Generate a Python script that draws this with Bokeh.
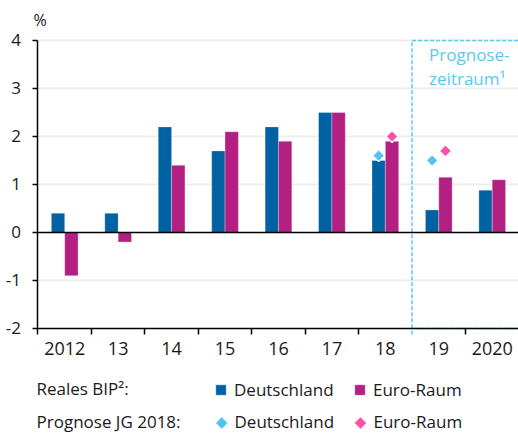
import numpy as np
from bokeh.plotting import figure
from bokeh.models import FixedTicker, Range1d, Label, Legend, LegendItem
from bokeh.embed import file_html
from bokeh.resources import INLINE

# ---- data ----
years = ["2012", "13", "14", "15", "16", "17", "18", "19", "2020"]
bip_de = [0.4, 0.4, 2.2, 1.7, 2.2, 2.5, 1.5, 0.47, 0.88]
bip_eu = [-0.9, -0.2, 1.4, 2.1, 1.9, 2.5, 1.9, 1.15, 1.1]
prog_years = ["18", "19"]
prog_de = [1.6, 1.5]
prog_eu = [2.0, 1.7]
y_ticks = [-2, -1, 0, 1, 2, 3, 4]
y_tick_labels = ["-2", "-1", "0", "1", "2", "3", "4"]
forecast_start = "19"

C_DE = "#0061A3"
C_EU = "#B41F82"
C_PDE = "#55C3F0"
C_PEU = "#FF4FA6"
C_BOX = "#5CC8F2"
TXT = "#1a1a1a"
FONT = "Open Sans"

n = len(years)
W, H = 518, 433
# frame spans the whole canvas; axes are pinned inside it
p = figure(width=W, height=H, x_range=Range1d(-1.2017, 8.4915), y_range=Range1d(-4.188, 4.833),
           output_backend="svg", toolbar_location=None,
           min_border_left=0, min_border_right=0, min_border_top=0, min_border_bottom=0)
p.outline_line_color = None
p.xgrid.visible = False
p.ygrid.visible = False

ymin, ymax = min(y_ticks), max(y_ticks)
x_lo, x_hi = -0.5, n - 0.5
fs = years.index(forecast_start) - 0.5

# horizontal grid lines
gl = [t for t in y_ticks if t not in (ymin, 0)]
p.segment(x0=[x_lo] * len(gl), x1=[x_hi] * len(gl), y0=gl, y1=gl,
          line_color="#EDEDED", line_width=2)

yax = p.yaxis[0]
yax.fixed_location = x_lo
yax.bounds = (ymin, ymax)
yax.ticker = FixedTicker(ticks=y_ticks, minor_ticks=[])
yax.major_label_overrides = {t: s for t, s in zip(y_ticks, y_tick_labels)}
yax.major_tick_out = 5
yax.major_tick_in = 0
yax.minor_tick_out = 0
yax.minor_tick_in = 0
yax.axis_line_color = "black"
yax.axis_line_width = 1.5
yax.major_tick_line_color = "black"
yax.major_tick_line_width = 1.5
yax.major_label_text_font = FONT
yax.major_label_text_font_size = "17px"
yax.major_label_text_color = TXT
yax.major_label_standoff = 12

xax = p.xaxis[0]
xax.fixed_location = ymin
xax.bounds = (x_lo, x_hi)
xax.ticker = FixedTicker(ticks=list(range(n)),
                         minor_ticks=[i - 0.5 for i in range(n + 1) if i - 0.5 != fs])
xax.major_label_overrides = {i: y for i, y in enumerate(years)}
xax.major_tick_out = 0
xax.major_tick_in = 0
xax.minor_tick_out = 6
xax.minor_tick_in = 0
xax.minor_tick_line_color = "black"
xax.minor_tick_line_width = 1.5
xax.axis_line_color = "black"
xax.axis_line_width = 1.5
xax.major_label_text_font = FONT
xax.major_label_text_font_size = "18px"
xax.major_label_text_color = TXT
xax.major_label_standoff = 8

# forecast box
p.quad(left=[fs], right=[x_hi + 0.3], bottom=[ymin], top=[ymax], fill_alpha=0,
       line_color=C_BOX, line_width=1.5, line_dash="4 2")
p.segment(x0=[fs], x1=[fs], y0=[ymin - 0.125], y1=[ymin], line_color=C_BOX,
          line_width=1.5, line_dash="4 2")

xs = np.arange(n)
r_de = p.vbar(x=xs - 0.125, width=0.25, top=bip_de, fill_color=C_DE,
              line_color="white", line_alpha=0.3, line_width=1)
r_eu = p.vbar(x=xs + 0.125, width=0.25, top=bip_eu, fill_color=C_EU,
              line_color="white", line_alpha=0.3, line_width=1)
# zero line above bars
p.segment(x0=[x_lo], x1=[x_hi], y0=[0], y1=[0], line_color="black", line_width=1.5)

px = np.array([years.index(y) for y in prog_years])
p.scatter(x=px - 0.125, y=prog_de, marker="square", angle=np.pi / 4, size=8.5,
          fill_color=C_PDE, line_color="white", line_width=1.2)
p.scatter(x=px + 0.125, y=prog_eu, marker="square", angle=np.pi / 4, size=8.5,
          fill_color=C_PEU, line_color="white", line_width=1.2)


def lab(text, xo, yo, size="17px", color=TXT, font=FONT, align="left", baseline="bottom",
        x=x_lo, y=ymin):
    p.add_layout(Label(x=x, y=y, x_offset=xo, y_offset=yo, text=text, text_font=font,
                       text_font_size=size, text_color=color, text_align=align,
                       text_baseline=baseline))


lab("%", -4.5, 9, size="16px", y=ymax)
lab("Prognose-", 17, -26, size="17px", color=C_BOX, x=fs, y=ymax)
lab("zeitraum¹", 17, -50, size="17px", color=C_BOX, x=fs, y=ymax)

# legend row 1: bars
lab("Reales BIP²:", -1.5, -72)
lg = Legend(items=[LegendItem(label="Deutschland", renderers=[r_de]),
                   LegendItem(label="Euro-Raum", renderers=[r_eu])],
            orientation="horizontal", location=(214, 32), padding=0, margin=0,
            spacing=0, glyph_width=13, glyph_height=13, label_standoff=7,
            label_width=119, label_height=18,
            background_fill_alpha=0, border_line_color=None)
lg.label_text_font = FONT
lg.label_text_font_size = "17px"
lg.label_text_color = TXT
p.add_layout(lg)

# legend row 2: forecast diamonds
lab("Prognose JG 2018:", -1.5, -105)
lab("◆", 183.5, -93.5, size="15px", color=C_PDE, font="DejaVu Sans", align="center",
    baseline="middle")
lab("Deutschland", 196.5, -105)
lab("◆", 322.5, -93.5, size="15px", color=C_PEU, font="DejaVu Sans", align="center",
    baseline="middle")
lab("Euro-Raum", 335.5, -105)

open("out.html", "w").write(file_html(p, INLINE))
